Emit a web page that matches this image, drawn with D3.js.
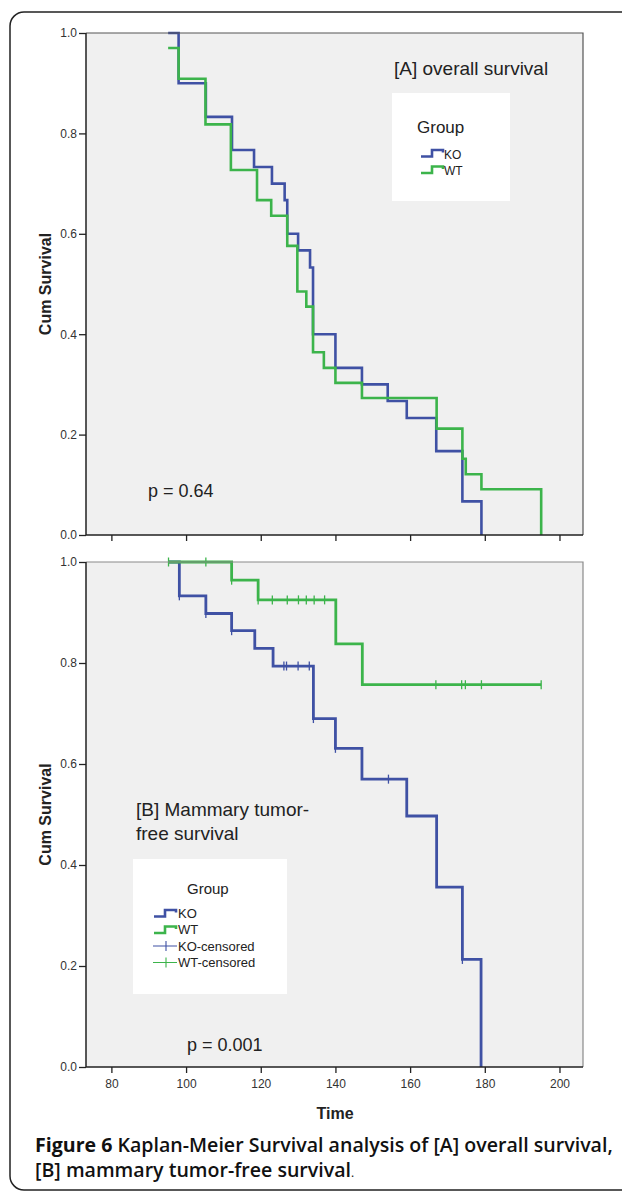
<!DOCTYPE html>
<meta charset="utf-8">
<script src="https://d3js.org/d3.v7.min.js"></script>
<style>
  body { margin: 0; background: #fff; }
  .tick text { font-family: 'Liberation Sans', Arial, sans-serif; font-size: 12px; fill: #333; }
  .lbl { font-family: 'Liberation Sans', Arial, sans-serif; fill: #222; }
  .cap { font-family: 'Open Sans', sans-serif; fill: #111; }
</style>
<div id="chart"></div>
<script>
// axis ticks
const timeTicks = [80, 100, 120, 140, 160, 180, 200];
const survTicks = [0, 0.2, 0.4, 0.6, 0.8, 1.0];

// [A] overall survival
const osKoTime = [95.2, 98, 105.3, 112.3, 118.2, 123, 126.4, 127.1, 130, 133.2, 134, 140, 147.1, 154, 159.1, 167, 174, 179.1];
const osKoSurv = [1, 0.9, 0.833, 0.767, 0.733, 0.7, 0.667, 0.6, 0.567, 0.533, 0.4, 0.333, 0.3, 0.267, 0.233, 0.167, 0.067, 0];
const osWtTime = [95.2, 98, 105.2, 112, 119, 122.8, 127.1, 129.8, 132.2, 134, 136.9, 140, 147.1, 167.1, 174, 174.9, 179.1, 195.1];
const osWtSurv = [0.97, 0.909, 0.818, 0.727, 0.667, 0.636, 0.576, 0.485, 0.455, 0.364, 0.333, 0.303, 0.273, 0.212, 0.152, 0.121, 0.091, 0];

// [B] mammary tumor-free survival
const tfKoTime = [95.3, 98.2, 105.3, 112.2, 118.4, 123.3, 134.1, 140, 147.1, 159.1, 167.1, 174, 179];
const tfKoSurv = [1, 0.933, 0.898, 0.864, 0.829, 0.794, 0.69, 0.631, 0.57, 0.497, 0.356, 0.213, 0];
const tfKoCens = [98.2, 105.3, 112.2, 126.2, 126.9, 130, 133, 134.1, 140, 154.2, 174];
const tfWtTime = [95.3, 112.2, 119.3, 140.1, 147.2, 195.1];
const tfWtSurv = [1, 0.964, 0.925, 0.838, 0.757, 0.757];
const tfWtCens = [95.3, 105.3, 112.2, 119.3, 123.1, 127.1, 130.1, 132.2, 134.3, 137.1, 166.9, 173.8, 174.8, 179.1, 195.1];

const blue = "#3f51a4", green = "#3cb44b";

const svg = d3.select("#chart").append("svg")
    .attr("width", 622).attr("height", 1196);

// outer frame
svg.append("rect")
    .attr("x", 10).attr("y", 12).attr("width", 700).attr("height", 1178)
    .attr("rx", 14)
    .attr("fill", "none").attr("stroke", "#222").attr("stroke-width", 1.5);

let x = d3.scaleLinear().domain([73.2, 206.3]).range([86, 583]);

function stepAt(times, surv, t) {
    let v = surv[0];
    for (let i = 0; i < times.length; i++) if (times[i] <= t) v = surv[i];
    return v;
}

function panel(top, bottom, curves, showLabels, topStroke) {
    let y = d3.scaleLinear().domain([0, 1]).range([bottom, top]);

    svg.append("rect")
        .attr("x", x.range()[0]).attr("y", top)
        .attr("width", x.range()[1] - x.range()[0]).attr("height", bottom - top)
        .attr("fill", "#f0f0f0");

    let line = d3.line()
        .x(d => x(d[0])).y(d => y(d[1]))
        .curve(d3.curveStepAfter);

    curves.forEach(function (c) {
        let pts = c.time.map((t, i) => [t, c.surv[i]]);
        svg.append("path")
            .attr("d", line(pts))
            .attr("fill", "none")
            .attr("stroke", c.color)
            .attr("stroke-width", c.width);
        if (c.cens) {
            svg.append("g").selectAll("line")
                .data(c.cens)
                .enter().append("line")
                .attr("x1", d => x(d)).attr("x2", d => x(d))
                .attr("y1", d => y(stepAt(c.time, c.surv, d)) - 4.5)
                .attr("y2", d => y(stepAt(c.time, c.surv, d)) + 4.5)
                .attr("stroke", c.color).attr("stroke-width", 1.3);
        }
    });

    // frame top and right
    svg.append("path")
        .attr("d", "M" + x.range()[0] + "," + top + "H" + x.range()[1] + "V" + bottom)
        .attr("fill", "none").attr("stroke", topStroke).attr("stroke-width", 1.2);

    let yAxis = svg.append("g")
        .attr("transform", "translate(" + x.range()[0] + ",0)")
        .call(d3.axisLeft(y).tickValues(survTicks).tickFormat(d3.format(".1f")).tickSize(7).tickPadding(2));
    yAxis.select(".domain").remove();
    yAxis.selectAll(".tick line").attr("stroke", "#222").attr("stroke-width", 1.3);

    let xAxis = svg.append("g")
        .attr("transform", "translate(0," + bottom + ")")
        .call(d3.axisBottom(x).tickValues(timeTicks).tickSize(6).tickPadding(6)
            .tickFormat(showLabels ? d3.format("d") : ""));
    xAxis.select(".domain").remove();
    xAxis.selectAll(".tick line").attr("stroke", "#222").attr("stroke-width", 1.3);

    // axis lines
    svg.append("path")
        .attr("d", "M" + x.range()[0] + "," + top + "V" + bottom + "H" + x.range()[1])
        .attr("fill", "none").attr("stroke", "#222").attr("stroke-width", 1.5);

    svg.append("text").attr("class", "lbl")
        .attr("transform", "translate(51," + ((top + bottom) / 2) + ") rotate(-90)")
        .attr("text-anchor", "middle")
        .style("font-size", "16px").style("font-weight", "bold")
        .text("Cum Survival");
    return y;
}

panel(33, 535, [
    {time: osKoTime, surv: osKoSurv, color: blue, width: 2.6},
    {time: osWtTime, surv: osWtSurv, color: green, width: 2.6}
], false, "#555");

panel(562, 1067, [
    {time: tfKoTime, surv: tfKoSurv, cens: tfKoCens, color: blue, width: 2.8},
    {time: tfWtTime, surv: tfWtSurv, cens: tfWtCens, color: green, width: 2.8}
], true, "#8a8a8a");

// annotations
svg.append("text").attr("class", "lbl").attr("x", 394).attr("y", 75)
    .style("font-size", "19px").text("[A] overall survival");
svg.append("text").attr("class", "lbl").attr("x", 148).attr("y", 497)
    .style("font-size", "18px").text("p = 0.64");
svg.append("text").attr("class", "lbl").attr("x", 136).attr("y", 816)
    .style("font-size", "19px").text("[B] Mammary tumor-");
svg.append("text").attr("class", "lbl").attr("x", 136).attr("y", 840)
    .style("font-size", "19px").text("free survival");
svg.append("text").attr("class", "lbl").attr("x", 187).attr("y", 1051)
    .style("font-size", "18px").text("p = 0.001");

svg.append("text").attr("class", "lbl").attr("x", 335).attr("y", 1119)
    .attr("text-anchor", "middle")
    .style("font-size", "16px").style("font-weight", "bold").text("Time");

// legends
function stepIcon(x0, yb, color) {
    svg.append("path")
        .attr("d", "M" + x0 + "," + yb + "h11v-6.5h11v2.5")
        .attr("fill", "none").attr("stroke", color).attr("stroke-width", 2.6);
}
function censIcon(x0, yc, color) {
    svg.append("path")
        .attr("d", "M" + x0 + "," + yc + "h24M" + (x0 + 13) + "," + (yc - 5) + "v10")
        .attr("fill", "none").attr("stroke", color).attr("stroke-width", 1.1);
}

svg.append("rect").attr("x", 392).attr("y", 93).attr("width", 118).attr("height", 108).attr("fill", "#fff");
svg.append("text").attr("class", "lbl").attr("x", 417).attr("y", 133).style("font-size", "17px").text("Group");
stepIcon(421, 156.5, blue);
svg.append("text").attr("class", "lbl").attr("x", 444).attr("y", 158.5).style("font-size", "12px").text("KO");
stepIcon(421, 173, green);
svg.append("text").attr("class", "lbl").attr("x", 444).attr("y", 175).style("font-size", "12px").text("WT");

svg.append("rect").attr("x", 133).attr("y", 859).attr("width", 154).attr("height", 135).attr("fill", "#fff");
svg.append("text").attr("class", "lbl").attr("x", 187).attr("y", 894).style("font-size", "15px").text("Group");
stepIcon(154, 916.5, blue);
svg.append("text").attr("class", "lbl").attr("x", 178).attr("y", 917.5).style("font-size", "13px").text("KO");
stepIcon(154, 933, green);
svg.append("text").attr("class", "lbl").attr("x", 178).attr("y", 934).style("font-size", "13px").text("WT");
censIcon(153, 946, blue);
svg.append("text").attr("class", "lbl").attr("x", 178).attr("y", 950.5).style("font-size", "13px").text("KO-censored");
censIcon(153, 962.5, green);
svg.append("text").attr("class", "lbl").attr("x", 178).attr("y", 967).style("font-size", "13px").text("WT-censored");

// caption
let c1 = svg.append("text").attr("class", "cap").attr("x", 35).attr("y", 1152).style("font-size", "16px");
c1.append("tspan").style("font-weight", 700).text("Figure 6 ");
c1.append("tspan").style("font-weight", 600).text("Kaplan-Meier Survival analysis of [A] overall survival,");
let c2 = svg.append("text").attr("class", "cap").attr("x", 35).attr("y", 1177).style("font-size", "16px");
c2.append("tspan").style("font-weight", 600).text("[B] mammary tumor-free survival");
c2.append("tspan").style("font-weight", 400).style("font-size", "12px").text(".");

// fit caption line 1 to the frame width
let len = c1.node().getComputedTextLength();
let fs = 16 * 578 / len;
c1.style("font-size", fs + "px");
c2.style("font-size", fs + "px");
</script>
